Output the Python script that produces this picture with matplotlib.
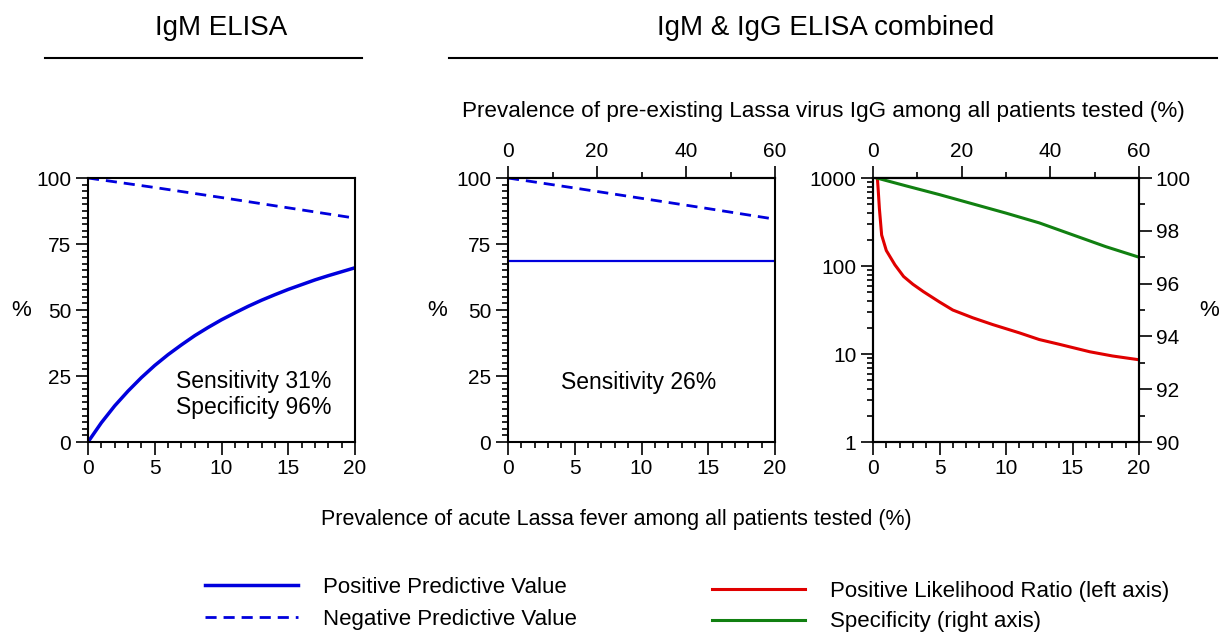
import numpy as np
import matplotlib
matplotlib.use('Agg')
import matplotlib.pyplot as plt
from matplotlib.lines import Line2D
from matplotlib.ticker import MultipleLocator, LogLocator, FixedLocator, FuncFormatter, NullFormatter

plt.rcParams['font.family'] = ['Liberation Sans', 'DejaVu Sans']

# acute Lassa fever prevalence (%)
prev = [0, 1, 2, 3, 4, 5, 6, 7, 8, 9, 10, 11, 12, 13, 14, 15, 16, 17, 18, 19, 20]
ppv_igm = [0, 7.3, 13.7, 19.3, 24.4, 29.0, 33.1, 36.8, 40.3, 43.4, 46.3,
           48.9, 51.4, 53.7, 55.8, 57.8, 59.6, 61.4, 63.0, 64.5, 66.0]
npv_x = [0, 5, 10, 15, 20]
npv_igm = [100, 96.4, 92.6, 88.7, 84.8]

ppv_x = [0, 20]
ppv_comb = [68.5, 68.5]
npv_comb = [100, 96.2, 92.3, 88.4, 84.4]

plr_x = [0.33, 0.4, 0.48, 0.65, 1.0, 1.65, 2.3, 3, 3.8, 5, 6, 7.5, 9, 11, 12.5, 14, 16.3, 18, 20]
plr = [1000, 700, 450, 225, 150, 103, 76, 62, 51, 39, 31.6, 25.8, 21.6, 17.4, 14.6, 12.9,
       10.6, 9.5, 8.6]
spec_x = [0.28, 2.5, 5, 7.5, 10, 12.5, 15, 17.5, 20]
spec = [100, 99.7, 99.37, 99.02, 98.67, 98.3, 97.85, 97.4, 97.0]

# IgG prevalence (%) on the top axes
igg_ticks = [0, 20, 40, 60]
igg_minor = [10, 30, 50]

W, H = 1220, 632
FS = 15
BLUE = '#0000dd'
RED = '#e00000'
GREEN = '#118011'


def rect(x0, x1, y0=178, y1=442):
    return [x0 / W, 1 - y1 / H, (x1 - x0) / W, (y1 - y0) / H]


def style(ax, axis='both'):
    for s in ax.spines.values():
        s.set_linewidth(1.5)
    ax.tick_params(axis=axis, which='major', length=9, width=1.2, labelsize=FS,
                   direction='out', pad=3)
    ax.tick_params(axis=axis, which='minor', length=4.5, width=1.2, direction='out')


fig = plt.figure(figsize=(W / 100, H / 100), dpi=100)

# ---- IgM ELISA panel
ax1 = fig.add_axes(rect(88, 355))
ax1.plot(prev, ppv_igm, color=BLUE, lw=2.5, label='Positive Predictive Value')
ax1.plot(npv_x, npv_igm, color=BLUE, lw=2, dashes=(4, 2.5), label='Negative Predictive Value')
ax1.set_xlim(0, 20)
ax1.set_ylim(0, 100)
ax1.xaxis.set_major_locator(MultipleLocator(5))
ax1.xaxis.set_minor_locator(MultipleLocator(1))
ax1.yaxis.set_major_locator(MultipleLocator(25))
ax1.yaxis.set_minor_locator(MultipleLocator(2.5))
style(ax1)
ax1.set_ylabel('%', fontsize=FS + 1, rotation=0, labelpad=11, va='center')
ax1.text(6.6, 18, 'Sensitivity 31%\nSpecificity 96%', fontsize=16.5, va='center',
         linespacing=1.12)

# ---- combined, PPV / NPV
ax2 = fig.add_axes(rect(508, 775))
ax2.plot(ppv_x, ppv_comb, color=BLUE, lw=1.6)
ax2.plot(npv_x, npv_comb, color=BLUE, lw=2, dashes=(4, 2.5))
ax2.set_xlim(0, 20)
ax2.set_ylim(0, 100)
ax2.xaxis.set_major_locator(MultipleLocator(5))
ax2.xaxis.set_minor_locator(MultipleLocator(1))
ax2.yaxis.set_major_locator(MultipleLocator(25))
ax2.yaxis.set_minor_locator(MultipleLocator(2.5))
style(ax2)
ax2.set_ylabel('%', fontsize=FS + 1, rotation=0, labelpad=14, va='center')
ax2.text(4.0, 22.7, 'Sensitivity 26%', fontsize=16.5, va='center')

# ---- combined, PLR / specificity
ax3 = fig.add_axes(rect(873, 1139))
ax3.plot(plr_x, plr, color=RED, lw=2.2, label='Positive Likelihood Ratio (left axis)')
ax3.set_yscale('log')
ax3.set_xlim(0, 20)
ax3.set_ylim(1, 1000)
ax3.xaxis.set_major_locator(MultipleLocator(5))
ax3.xaxis.set_minor_locator(MultipleLocator(1))
ax3.yaxis.set_major_locator(FixedLocator([1, 10, 100, 1000]))
ax3.yaxis.set_major_formatter(FuncFormatter(lambda v, p: f'{v:g}'))
ax3.yaxis.set_minor_locator(LogLocator(base=10, subs=np.arange(2, 10)))
ax3.yaxis.set_minor_formatter(NullFormatter())
style(ax3)

ax3r = ax3.twinx()
ax3r.plot(spec_x, spec, color=GREEN, lw=2.2, label='Specificity (right axis)')
ax3r.set_ylim(90, 100)
ax3r.yaxis.set_major_locator(MultipleLocator(2))
ax3r.yaxis.set_minor_locator(MultipleLocator(1))
style(ax3r, 'y')
ax3r.set_ylabel('%', fontsize=FS + 1, rotation=0, labelpad=13, va='center')

# top axes: IgG prevalence 0-60
for ax in (ax2, ax3):
    top = ax.secondary_xaxis('top', functions=(lambda x: x * 3, lambda x: x / 3))
    top.xaxis.set_major_locator(FixedLocator(igg_ticks))
    top.xaxis.set_minor_locator(FixedLocator(igg_minor))
    style(top, 'x')

# headings
fig.text(221 / W, 1 - 28 / H, 'IgM ELISA', fontsize=20, ha='center', va='center')
fig.text(826 / W, 1 - 28 / H, 'IgM & IgG ELISA combined', fontsize=20, ha='center', va='center')
fig.add_artist(Line2D([45 / W, 362 / W], [1 - 58 / H] * 2, color='black', lw=1.5))
fig.add_artist(Line2D([449 / W, 1217 / W], [1 - 58 / H] * 2, color='black', lw=1.5))
fig.text(823 / W, 1 - 112 / H,
         'Prevalence of pre-existing Lassa virus IgG among all patients tested (%)',
         fontsize=16.2, ha='center', va='center')
fig.text(616 / W, 1 - 520 / H, 'Prevalence of acute Lassa fever among all patients tested (%)',
         fontsize=15.5, ha='center', va='center')

# legends
h1, l1 = ax1.get_legend_handles_labels()
fig.legend(h1, l1, loc='upper left', bbox_to_anchor=(205 / W, 1 - 577 / H), frameon=False,
           fontsize=16, handlelength=4.2, handletextpad=1.1, labelspacing=0.48, borderpad=0,
           borderaxespad=0)
h3, l3 = ax3.get_legend_handles_labels()
h4, l4 = ax3r.get_legend_handles_labels()
fig.legend(h3 + h4, l3 + l4, loc='upper left', bbox_to_anchor=(712 / W, 1 - 581 / H),
           frameon=False, fontsize=16, handlelength=4.2, handletextpad=1.1, labelspacing=0.42,
           borderpad=0, borderaxespad=0)

fig.savefig('out.png', dpi=100)
